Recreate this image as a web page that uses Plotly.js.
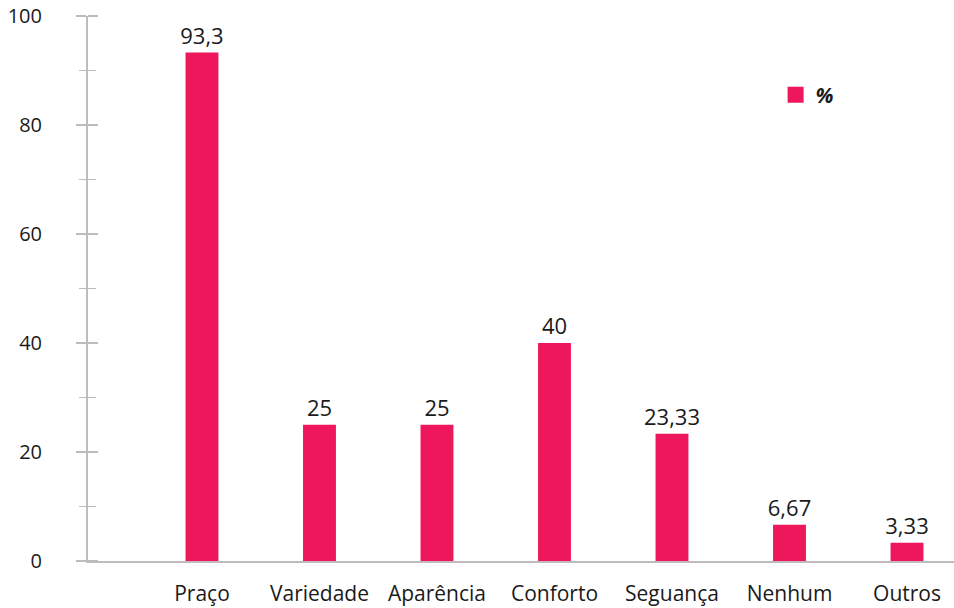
<!DOCTYPE html>
<html>
<head>
<meta charset="utf-8">
<script src="https://cdn.plot.ly/plotly-3.0.1.min.js"></script>
<style>html,body{margin:0;padding:0;background:#fff;}#chart{width:954px;height:608px;}</style>
</head>
<body>
<div id="chart"></div>
<script>
const categories = ["Praço", "Variedade", "Aparência", "Conforto", "Seguança", "Nenhum", "Outros"];
const values = [93.3, 25, 25, 40, 23.33, 6.67, 3.33];
const valueLabels = ["93,3", "25", "25", "40", "23,33", "6,67", "3,33"];
const seriesName = "%";
const yTicks = [0, 20, 40, 60, 80, 100];
const yMinorTicks = [10, 30, 50, 70, 90];

const pink = "#EE175C";
const axisGray = "#BFBBBD";
const textColor = "#1a1a1a";
const fontFam = "Open Sans, Noto Sans, sans-serif";

const traces = [
  {
    type: "bar",
    x: categories,
    y: values,
    text: valueLabels,
    textposition: "outside",
    constraintext: "none",
    cliponaxis: false,
    textfont: {family: fontFam, size: 22, color: textColor},
    marker: {color: pink},
    width: 0.28,
    showlegend: false,
    hoverinfo: "x+y"
  },
  {
    type: "scatter",
    mode: "markers",
    x: [null],
    y: [null],
    name: seriesName,
    marker: {symbol: "square", color: pink, size: 20},
    showlegend: true,
    hoverinfo: "skip"
  },
  {
    type: "bar",
    x: categories,
    y: values,
    yaxis: "y2",
    marker: {color: "rgba(0,0,0,0)"},
    width: 0.28,
    showlegend: false,
    hoverinfo: "skip"
  },
  {
    type: "bar",
    x: categories,
    y: values,
    yaxis: "y3",
    marker: {color: "rgba(0,0,0,0)"},
    width: 0.28,
    showlegend: false,
    hoverinfo: "skip"
  }
];

const layout = {
  width: 954,
  height: 608,
  margin: {l: 88, r: 0, t: 16, b: 47},
  paper_bgcolor: "#ffffff",
  plot_bgcolor: "#ffffff",
  font: {family: fontFam, size: 20, color: textColor},
  barmode: "overlay",
  xaxis: {
    type: "category",
    range: [-0.97, 6.4],
    showline: true,
    linecolor: axisGray,
    linewidth: 2,
    ticks: "",
    showgrid: false,
    zeroline: false,
    ticklabelstandoff: 13,
    tickfont: {family: fontFam, size: 21, color: textColor}
  },
  yaxis: {
    range: [0, 100],
    tickvals: yTicks,
    showline: true,
    linecolor: axisGray,
    linewidth: 2,
    ticks: "outside",
    ticklen: 10,
    tickwidth: 1.5,
    tickcolor: axisGray,
    minor: {dtick: 10, tick0: 0, ticks: "outside", ticklen: 7, tickwidth: 1.5, tickcolor: axisGray},
    showgrid: false,
    zeroline: false,
    ticklabelstandoff: 30,
    tickfont: {family: fontFam, size: 20, color: textColor}
  },
  yaxis2: {
    overlaying: "y",
    anchor: "free",
    position: 0.01155,
    side: "left",
    range: [0, 100],
    tickvals: yTicks,
    showticklabels: false,
    showline: false,
    ticks: "outside",
    ticklen: 10,
    tickwidth: 1.5,
    tickcolor: axisGray,
    showgrid: false,
    zeroline: false
  },
  yaxis3: {
    overlaying: "y",
    anchor: "free",
    position: 0.00924,
    side: "left",
    range: [0, 100],
    tickvals: yMinorTicks,
    showticklabels: false,
    showline: false,
    ticks: "outside",
    ticklen: 8,
    tickwidth: 1.5,
    tickcolor: axisGray,
    showgrid: false,
    zeroline: false
  },
  legend: {
    x: 0.794,
    y: 0.855,
    xanchor: "left",
    yanchor: "middle",
    font: {family: fontFam, size: 21, color: textColor, weight: "bold", style: "italic"},
    bgcolor: "rgba(0,0,0,0)"
  },
  showlegend: true
};

Plotly.newPlot("chart", traces, layout, {displayModeBar: false, staticPlot: true});
</script>
</body>
</html>
